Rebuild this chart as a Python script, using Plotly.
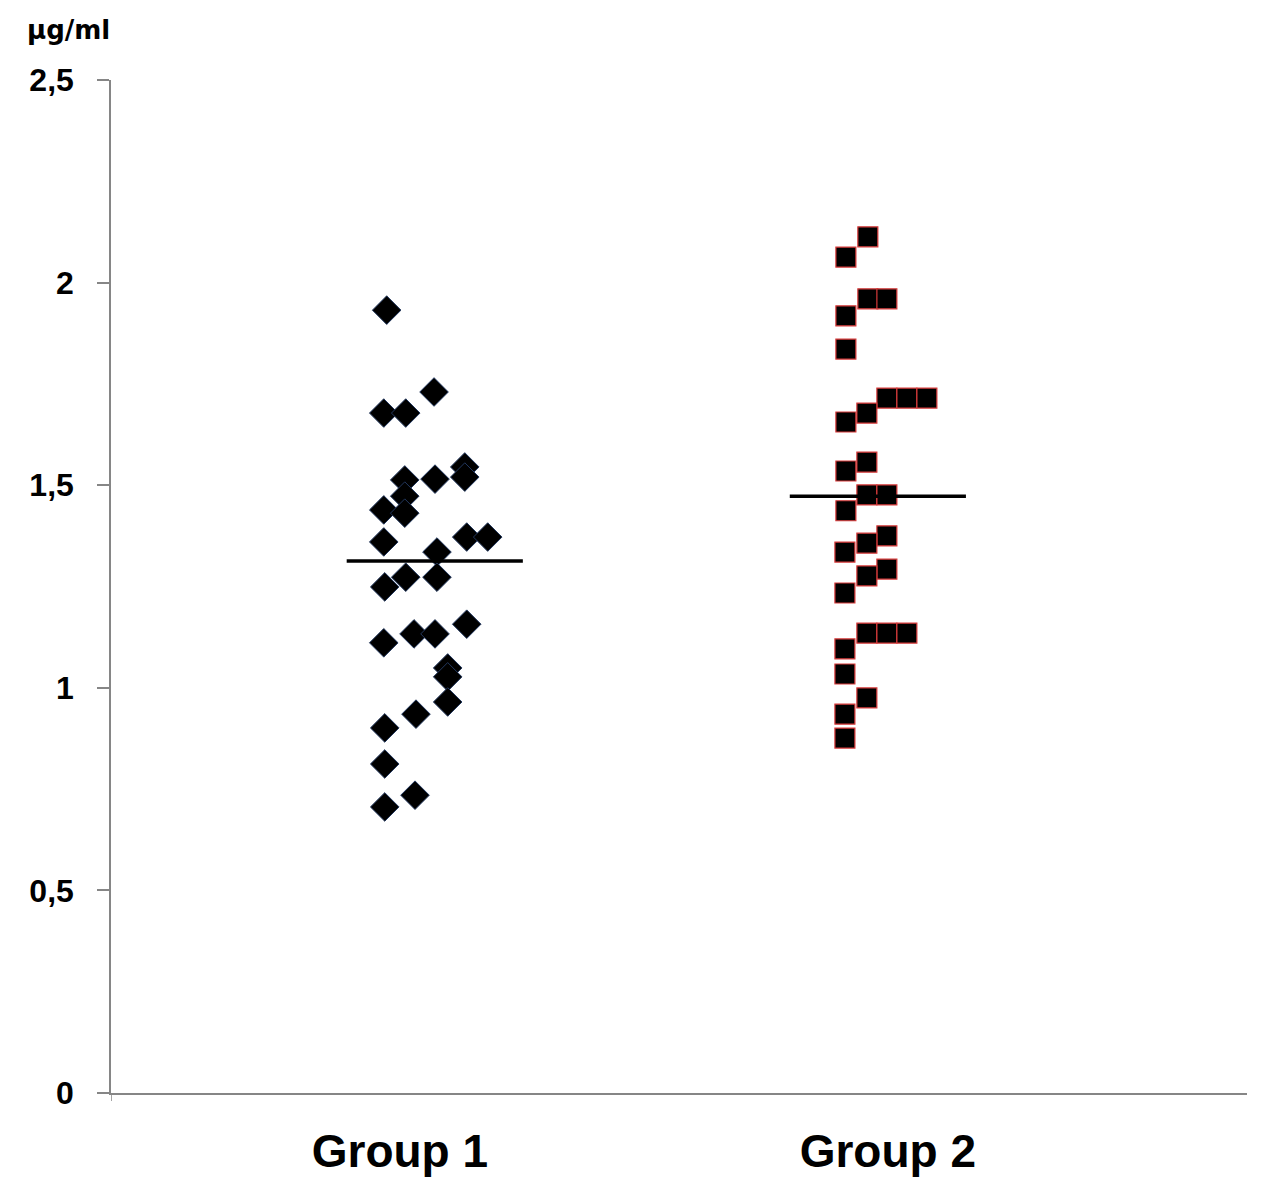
import plotly.graph_objects as go

# Group 1 (diamonds): x position within the group column, value in µg/ml
g1_x = [0.973, 1.070, 0.967, 1.012, 1.133, 1.133, 1.010, 1.072, 1.010, 0.967,
        1.010, 0.967, 1.076, 1.137, 1.180, 0.969, 1.012, 1.076, 0.967, 1.029,
        1.072, 1.137, 1.098, 1.098, 1.098, 1.033, 0.969, 0.969, 1.031, 0.969]
g1_y = [1.932, 1.730, 1.678, 1.678, 1.545, 1.520, 1.513, 1.515, 1.473, 1.439,
        1.431, 1.360, 1.335, 1.372, 1.372, 1.249, 1.273, 1.273, 1.111, 1.133,
        1.133, 1.157, 1.049, 1.027, 0.965, 0.935, 0.901, 0.812, 0.735, 0.706]

# Group 2 (squares)
g2_x = [1.959, 1.914, 1.959, 1.998, 1.914, 1.914, 1.998, 2.039, 2.080, 1.957,
        1.914, 1.957, 1.914, 1.957, 1.998, 1.914, 1.998, 1.957, 1.912, 1.998,
        1.957, 1.912, 1.957, 1.998, 2.039, 1.912, 1.912, 1.957, 1.912, 1.912]
g2_y = [2.113, 2.063, 1.960, 1.960, 1.918, 1.836, 1.715, 1.715, 1.715, 1.678,
        1.656, 1.557, 1.535, 1.476, 1.476, 1.437, 1.375, 1.357, 1.335, 1.293,
        1.276, 1.234, 1.135, 1.135, 1.135, 1.096, 1.034, 0.975, 0.935, 0.876]

# mean lines (x start, x end, level)
mean1_x = [0.891, 1.252]
mean1_y = [1.313, 1.313]
mean2_x = [1.799, 2.160]
mean2_y = [1.473, 1.473]

groups = ["Group 1", "Group 2"]
group_pos = [1, 2]
y_ticks = [0, 0.5, 1, 1.5, 2, 2.5]
y_tick_text = ["0", "0,5", "1", "1,5", "2", "2,5"]

x_range = [0.408, 2.736]

fig = go.Figure()
fig.add_trace(go.Scatter(
    x=g1_x, y=g1_y, mode="markers",
    marker=dict(symbol="diamond", size=22, color="black",
                line=dict(color="#23385e", width=1)),
))
fig.add_trace(go.Scatter(
    x=g2_x, y=g2_y, mode="markers",
    marker=dict(symbol="square", size=20, color="black",
                line=dict(color="#d83a3a", width=1.2)),
))
fig.add_trace(go.Scatter(x=mean1_x, y=mean1_y, mode="lines",
                         line=dict(color="black", width=3.5)))
fig.add_trace(go.Scatter(x=mean2_x, y=mean2_y, mode="lines",
                         line=dict(color="black", width=3.5)))

# small tick below the origin
fig.add_shape(type="line", xref="x", yref="paper",
              x0=x_range[0], x1=x_range[0], y0=0, y1=-0.008,
              line=dict(color="#868686", width=1.5))

fig.add_annotation(text="µg/ml", xref="paper", yref="paper",
                   x=-0.076, y=1.049, xanchor="left", yanchor="middle",
                   showarrow=False,
                   font=dict(family="DejaVu Sans", size=26, color="black", weight="bold"))

fig.update_xaxes(range=x_range, tickvals=group_pos, ticktext=groups,
                 showline=True, linecolor="#868686", linewidth=1.5,
                 showgrid=False, zeroline=False, ticks="",
                 ticklabelstandoff=17,
                 tickfont=dict(family="Liberation Sans", size=46, color="black", weight="bold"))
fig.update_yaxes(range=[0, 2.5], tickvals=y_ticks, ticktext=y_tick_text,
                 showline=True, linecolor="#868686", linewidth=1.5,
                 showgrid=False, zeroline=False,
                 ticks="outside", ticklen=12, tickcolor="#868686", tickwidth=1.5,
                 ticklabelstandoff=17,
                 tickfont=dict(family="Liberation Sans", size=32, color="black", weight="bold"))

# page body adds 8px offset, margins compensate
fig.update_layout(width=1267, height=1194, showlegend=False,
                  plot_bgcolor="white", paper_bgcolor="white",
                  margin=dict(l=103, r=28, t=72, b=109))

fig.write_html("out.html")
